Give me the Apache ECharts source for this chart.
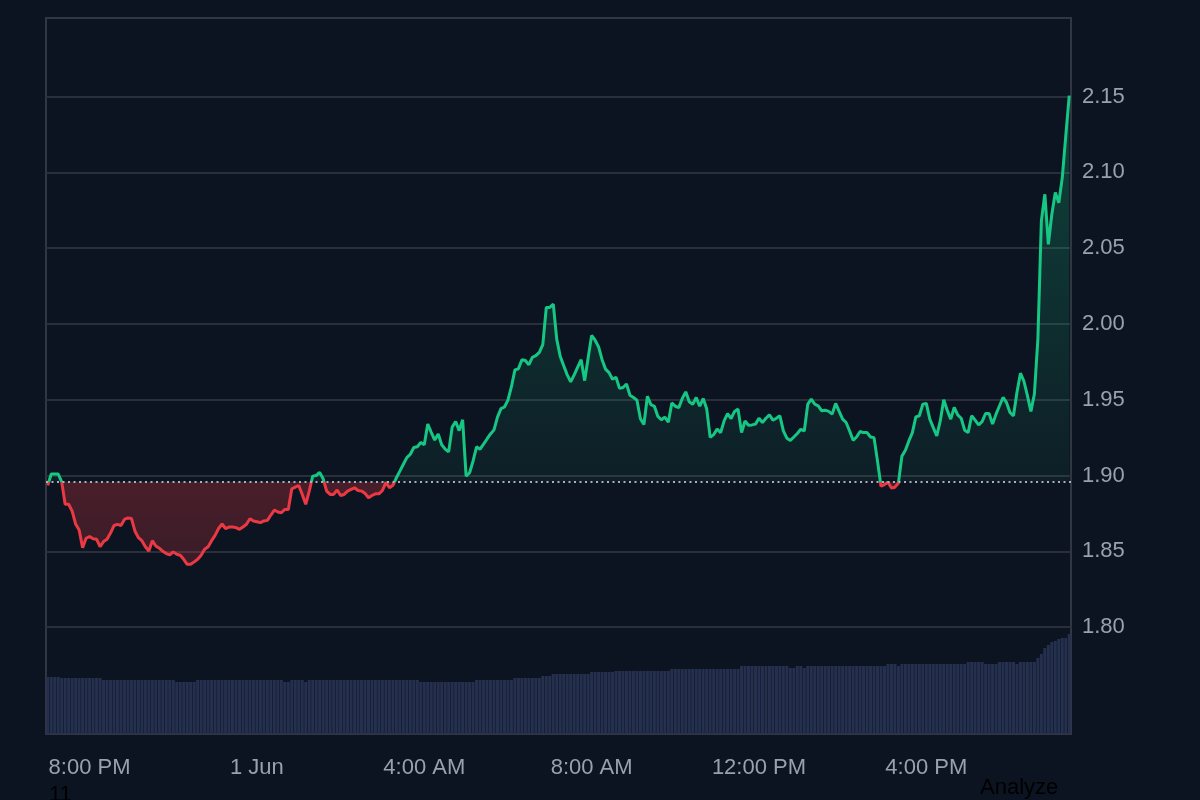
<!DOCTYPE html>
<html>
<head>
<meta charset="utf-8">
<script src="https://cdn.jsdelivr.net/npm/echarts@6/dist/echarts.min.js"></script>
<style>
html,body{margin:0;padding:0;background:#0d1421;}
#chart{width:1200px;height:800px;}
</style>
</head>
<body>
<div id="chart"></div>
<script>
// ---- data ----
const startTime = '2024-05-31 19:00';   // first 5-minute bucket
const stepMinutes = 5;
const baselinePrice = 1.896;            // price at start of the range (dotted line)

const price = [
1.8935,1.901,1.901,1.901,1.8958,1.881,1.881,1.8765,1.868,1.864,
1.8524,1.8586,1.8597,1.8583,1.858,1.853,1.8564,1.858,1.862,1.867,
1.8678,1.867,1.871,1.872,1.8717,1.8634,1.859,1.857,1.853,1.8502,
1.857,1.8535,1.852,1.850,1.8485,1.8476,1.8496,1.848,1.8474,1.8447,
1.8414,1.8414,1.843,1.8447,1.8474,1.8513,1.853,1.857,1.8605,1.865,
1.868,1.865,1.866,1.866,1.8656,1.8645,1.866,1.8678,1.8715,1.870,
1.8695,1.8689,1.870,1.8704,1.8739,1.8772,1.8759,1.8754,1.8776,1.8776,
1.8912,1.8923,1.8934,1.8875,1.881,1.8897,1.8996,1.900,1.902,1.8978,
1.8897,1.8875,1.8875,1.8904,1.8868,1.8875,1.8897,1.8908,1.8919,1.8901,
1.8897,1.8882,1.8853,1.8868,1.8879,1.8879,1.8901,1.8955,1.8919,1.8935,
1.8985,1.9029,1.9074,1.9118,1.914,1.9185,1.919,1.9218,1.9203,1.934,
1.9285,1.9234,1.9274,1.9203,1.9174,1.9156,1.9319,1.9356,1.9296,1.9368,
1.8996,1.9018,1.9096,1.9189,1.9174,1.9207,1.9241,1.9274,1.9301,1.9385,
1.9441,1.9452,1.9497,1.9586,1.9697,1.9704,1.9764,1.9759,1.9731,1.978,
1.9791,1.9813,1.9864,2.0109,2.0109,2.0131,1.9898,1.9786,1.9724,1.9664,
1.9619,1.9664,1.9715,1.9764,1.9626,1.9775,1.9924,1.9893,1.9849,1.9764,
1.9702,1.9679,1.9635,1.9648,1.9575,1.9581,1.9604,1.953,1.9515,1.9497,
1.9374,1.9336,1.9523,1.9468,1.9457,1.939,1.9368,1.9385,1.9352,1.9479,
1.9457,1.9448,1.9508,1.9552,1.9486,1.947,1.9515,1.9457,1.9508,1.9441,
1.9252,1.927,1.9307,1.9283,1.936,1.9409,1.9376,1.9423,1.9438,1.9283,
1.936,1.9332,1.9334,1.9339,1.9378,1.935,1.9378,1.94,1.9365,1.9378,
1.9394,1.9294,1.9246,1.9232,1.9254,1.9277,1.9305,1.9294,1.9471,1.9504,
1.9471,1.946,1.9427,1.9431,1.9423,1.9405,1.9476,1.9423,1.9372,1.935,
1.9294,1.9232,1.9254,1.929,1.9283,1.9283,1.9254,1.925,1.9095,1.8929,
1.894,1.8955,1.8918,1.8923,1.8951,1.9128,1.9166,1.9228,1.9283,1.9387,
1.9394,1.9471,1.9476,1.9372,1.9316,1.9261,1.936,1.95,1.9431,1.9372,
1.9449,1.94,1.9378,1.9299,1.9283,1.9394,1.9365,1.9334,1.9356,1.9409,
1.9409,1.9339,1.9405,1.946,1.9515,1.9482,1.9416,1.9394,1.9549,1.9675,
1.9622,1.9527,1.9423,1.9538,1.99,2.068,2.0856,2.0525,2.0724,2.0867,
2.080,2.0966,2.1242,2.1507
];

// 24h rolling volume (relative units)
const volume = [
57,57,57,57,
56,56,56,56,56,56,56,56,56,56,56,56,
54,54,54,54,54,54,54,54,54,54,54,54,54,54,54,54,54,54,54,54,54,
52,52,52,52,52,52,
54,54,54,54,54,54,54,54,54,54,54,54,54,54,54,54,54,54,54,54,54,54,54,54,54,
52,52,
54,54,54,54,
52,
54,54,54,54,54,54,54,54,54,54,54,54,54,54,54,54,54,54,54,54,54,54,54,54,54,54,54,54,54,54,54,54,
52,52,52,52,52,52,52,52,52,52,52,52,52,52,52,52,
54,54,54,54,54,54,54,54,54,54,54,
56,56,56,56,56,56,56,56,
58,58,58,
60,60,60,60,60,60,60,60,60,60,60,
62,62,62,62,62,62,62,
63,63,63,63,63,63,63,63,63,63,63,63,63,63,63,63,
65,65,65,65,65,65,65,65,65,65,65,65,65,65,65,65,65,65,65,65,
68,68,68,68,68,68,68,68,68,68,68,68,68,68,
66,66,
68,68,
66,
68,68,68,68,68,68,68,68,68,68,68,68,68,68,68,68,68,68,68,68,68,68,68,
70,70,70,
68,
70,70,70,70,70,70,70,70,70,70,70,70,70,70,70,70,70,70,70,
72,72,72,72,72,
70,70,70,70,
72,72,72,72,72,
70,
72,72,72,72,72,
76,80,86,89,92,93,95,96,96,100
];

const tickLabels = {12:'8:00 PM', 60:'1 Jun', 108:'4:00 AM', 156:'8:00 AM', 204:'12:00 PM', 252:'4:00 PM'};
const priceTicks = {min:1.75, max:2.20, interval:0.05};

// category timestamps (5-minute buckets)
const categories = [];
(function(){
  const t0 = new Date(startTime.replace(' ', 'T') + ':00');
  for (let i = 0; i < price.length; i++) {
    const d = new Date(t0.getTime() + i * stepMinutes * 60000);
    categories.push(d.getFullYear()+'-'+String(d.getMonth()+1).padStart(2,'0')+'-'+String(d.getDate()).padStart(2,'0')+' '+String(d.getHours()).padStart(2,'0')+':'+String(d.getMinutes()).padStart(2,'0'));
  }
})();

// ---- styling / layout ----
const GREEN = '#16c784', RED = '#ea3943';
const FONT = 'Liberation Sans, Arial, sans-serif';
const LABEL = '#9aa1ae';
const GRIDLINE = '#2a2f3a';
const PRICE_TOP = 20.9, PRICE_BOTTOM = 702.8;   // pixel rows of 2.20 and 1.75
function yPix(v){ return PRICE_TOP + (priceTicks.max - v) / (priceTicks.max - priceTicks.min) * (PRICE_BOTTOM - PRICE_TOP); }
const gTop = yPix(2.15), gBot = yPix(1.84);
const baseOff = (yPix(baselinePrice) - gTop) / (gBot - gTop);

const chart = echarts.init(document.getElementById('chart'), null, {renderer:'canvas'});
chart.setOption({
  backgroundColor: '#0d1421',
  animation: false,
  textStyle: {fontFamily: FONT},
  grid: [
    {left: 46, right: 129, top: PRICE_TOP, bottom: 800 - PRICE_BOTTOM, show: false},
    {left: 46, right: 129, top: 18, bottom: 66, show: true, borderColor: '#303643', borderWidth: 2, backgroundColor: 'transparent'}
  ],
  xAxis: [
    {type: 'category', gridIndex: 0, data: categories, boundaryGap: true, show: false},
    {type: 'category', gridIndex: 1, data: categories, boundaryGap: true,
     axisLine: {show: false}, axisTick: {show: false}, splitLine: {show: false},
     axisLabel: {
       interval: function(idx){ return tickLabels[idx] !== undefined; },
       formatter: function(val, idx){ return tickLabels[idx] || ''; },
       color: LABEL, fontSize: 22, fontFamily: FONT, margin: 23
     }}
  ],
  yAxis: [
    {type: 'value', gridIndex: 0, position: 'right', min: priceTicks.min, max: priceTicks.max, interval: priceTicks.interval,
     axisLine: {show: false}, axisTick: {show: false},
     splitLine: {show: true, showMinLine: false, showMaxLine: false, lineStyle: {color: GRIDLINE, width: 2}},
     axisLabel: {showMinLabel: false, showMaxLabel: false, formatter: function(v){ return v.toFixed(2); },
       color: LABEL, fontSize: 22, fontFamily: FONT, margin: 11}},
    {type: 'value', gridIndex: 1, min: 0, max: 716, show: false, splitLine: {show: false}}
  ],
  visualMap: {
    show: false, type: 'piecewise', seriesIndex: 1, dimension: 1,
    pieces: [{gt: baselinePrice, lte: 5, color: GREEN}, {gt: 0, lte: baselinePrice, color: RED}]
  },
  series: [
    {type: 'bar', xAxisIndex: 1, yAxisIndex: 1, data: volume, silent: true,
     barCategoryGap: '14%', itemStyle: {color: '#25304f'}},
    {type: 'line', xAxisIndex: 0, yAxisIndex: 0, data: price, showSymbol: false, symbol: 'none',
     lineStyle: {width: 3}, z: 3,
     areaStyle: {origin: baselinePrice, opacity: 1, color: {
       type: 'linear', global: true, x: 0, y: gTop, x2: 0, y2: gBot,
       colorStops: [
         {offset: 0, color: 'rgba(22,199,132,0.26)'},
         {offset: baseOff, color: 'rgba(22,199,132,0.06)'},
         {offset: baseOff, color: 'rgba(234,57,67,0.27)'},
         {offset: 1, color: 'rgba(234,57,67,0.20)'}
       ]}},
     markLine: {silent: true, precision: 4, symbol: ['none','none'], label: {show: false},
       lineStyle: {color: '#aab0ba', type: [2, 3.5], width: 2},
       data: [{yAxis: baselinePrice}]}}
  ],
  graphic: [
    {type: 'text', left: 49, top: 784, style: {text: '11', fill: '#000000', font: '22px Liberation Sans, Arial, sans-serif'}},
    {type: 'text', left: 980, top: 777, style: {text: 'Analyze', fill: '#000000', font: '22px Liberation Sans, Arial, sans-serif'}}
  ]
});
</script>
</body>
</html>
